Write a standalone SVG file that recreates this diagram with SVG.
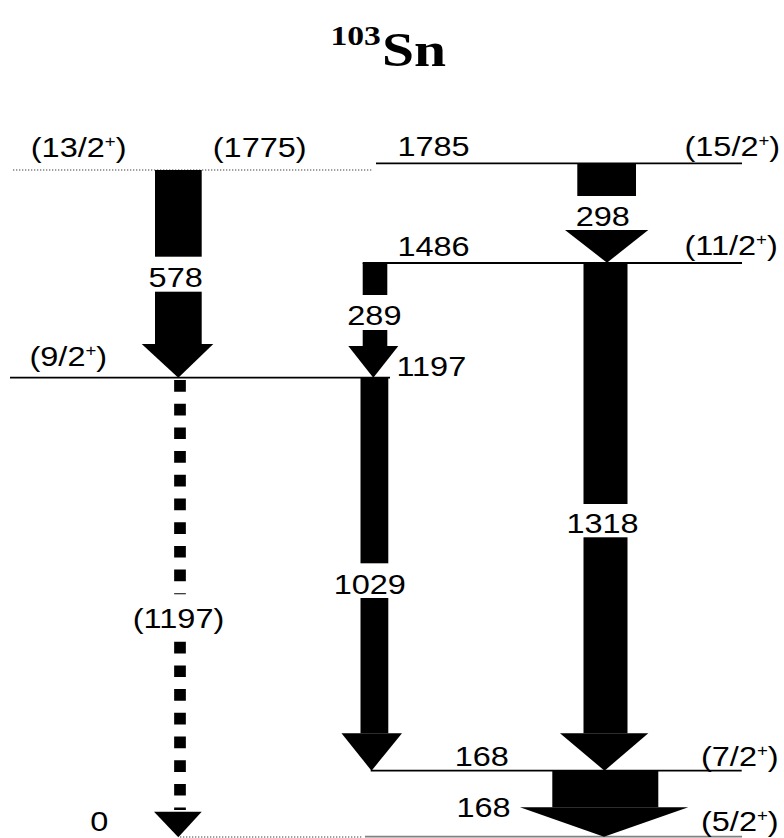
<svg xmlns="http://www.w3.org/2000/svg" width="784" height="838" viewBox="0 0 784 838">
<style>
.lbl{font-family:"Liberation Sans",Arial,sans-serif;font-size:28px;fill:#000}
.sup{font-size:16px}
.ttl{font-family:"Liberation Serif","Times New Roman",serif;font-weight:bold;fill:#000}
.lvl{stroke:#000;stroke-width:1.8;fill:none}
.dot{stroke:#808080;stroke-width:1.3;stroke-dasharray:1.3 1.7;fill:none}
.gray{stroke:#808080;stroke-width:1.8;fill:none}
.arr{fill:#000;stroke:none}
.dash{stroke:#000;stroke-width:11.7;stroke-dasharray:11.7 12;fill:none}
</style>
<rect width="784" height="838" fill="#fff"/>
<g id="title">
<text class="ttl" font-size="28" transform="translate(330.5,45) scale(1.2,1)">103</text>
<text class="ttl" font-size="48" transform="translate(382,66) scale(1.2,1)">Sn</text>
</g>
<g id="level-1775">
<line class="dot" x1="13" y1="170" x2="373" y2="170"/>
<text class="lbl" transform="translate(30.8,157) scale(1.16,1)">(13/2<tspan class="sup" dy="-10">+</tspan><tspan dy="10">)</tspan></text>
<text class="lbl" transform="translate(212.8,157) scale(1.16,1)">(1775)</text>
</g>
<g id="level-1785">
<line class="lvl" x1="376" y1="163.3" x2="742" y2="163.3"/>
<text class="lbl" transform="translate(397.4,156) scale(1.16,1)">1785</text>
<text class="lbl" transform="translate(684.5,156) scale(1.16,1)">(15/2<tspan class="sup" dy="-10">+</tspan><tspan dy="10">)</tspan></text>
</g>
<g id="level-1486">
<line class="lvl" x1="362.7" y1="263" x2="742" y2="263"/>
<text class="lbl" transform="translate(397.4,256) scale(1.16,1)">1486</text>
<text class="lbl" transform="translate(684.5,255) scale(1.16,1)">(11/2<tspan class="sup" dy="-10">+</tspan><tspan dy="10">)</tspan></text>
</g>
<g id="level-1197">
<line class="lvl" x1="10" y1="377.7" x2="390" y2="377.7"/>
<text class="lbl" transform="translate(29.5,366) scale(1.16,1)">(9/2<tspan class="sup" dy="-10">+</tspan><tspan dy="10">)</tspan></text>
<text class="lbl" transform="translate(396.4,376) scale(1.16,1)">1197</text>
</g>
<g id="level-168">
<line class="lvl" x1="370.7" y1="770.7" x2="741.7" y2="770.7"/>
<text class="lbl" transform="translate(454.7,766) scale(1.16,1)">168</text>
<text class="lbl" transform="translate(701,766) scale(1.16,1)">(7/2<tspan class="sup" dy="-10">+</tspan><tspan dy="10">)</tspan></text>
</g>
<g id="level-0">
<line class="dot" x1="180" y1="837" x2="362" y2="837"/>
<line class="gray" x1="365" y1="836.7" x2="742" y2="836.7"/>
<text class="lbl" transform="translate(90.3,831) scale(1.16,1)">0</text>
<text class="lbl" transform="translate(701,831) scale(1.16,1)">(5/2<tspan class="sup" dy="-10">+</tspan><tspan dy="10">)</tspan></text>
</g>
<g id="connectors">
<g id="g578">
<rect class="arr" x="155" y="170" width="46.7" height="86.7"/>
<rect class="arr" x="155" y="291.7" width="46.7" height="52.3"/>
<polygon class="arr" points="141.7,344 213.3,344 178.3,377.7"/>
<text class="lbl" transform="translate(148.6,287) scale(1.16,1)">578</text>
</g>
<g id="g289">
<rect class="arr" x="362.7" y="263" width="24.6" height="32"/>
<rect class="arr" x="362.7" y="330" width="24.6" height="16"/>
<polygon class="arr" points="348.3,346 398.3,346 373.3,377.7"/>
<text class="lbl" transform="translate(347.3,325) scale(1.16,1)">289</text>
</g>
<g id="g298">
<rect class="arr" x="577.3" y="163.3" width="58.7" height="32.7"/>
<polygon class="arr" points="565,230 648.3,230 607,262.7"/>
<text class="lbl" transform="translate(575.7,226) scale(1.16,1)">298</text>
</g>
<g id="g1318">
<rect class="arr" x="583.5" y="263" width="44" height="241"/>
<rect class="arr" x="583.5" y="537.3" width="44" height="196"/>
<polygon class="arr" points="560,733.3 648.3,733.3 604.5,770.7"/>
<text class="lbl" transform="translate(566.4,533) scale(1.16,1)">1318</text>
</g>
<g id="g1029">
<rect class="arr" x="360.5" y="377.7" width="27.8" height="185.6"/>
<rect class="arr" x="360.5" y="598" width="27.8" height="135.3"/>
<polygon class="arr" points="341.5,733.3 402,733.3 371.5,770.7"/>
<text class="lbl" transform="translate(333.7,594) scale(1.16,1)">1029</text>
</g>
<g id="g1197">
<line class="dash" x1="180" y1="380" x2="180" y2="594.3"/>
<line class="dash" x1="180" y1="641.7" x2="180" y2="810"/>
<polygon class="arr" points="154,811.7 201.7,811.7 178.3,837.3"/>
<text class="lbl" transform="translate(132.8,628.3) scale(1.16,1)">(1197)</text>
</g>
<g id="g168">
<rect class="arr" x="552.3" y="770.7" width="106" height="36.6"/>
<polygon class="arr" points="520,807.3 688.3,807.3 604,836.7"/>
<text class="lbl" transform="translate(456.4,816.7) scale(1.16,1)">168</text>
</g>
</g>
</svg>
